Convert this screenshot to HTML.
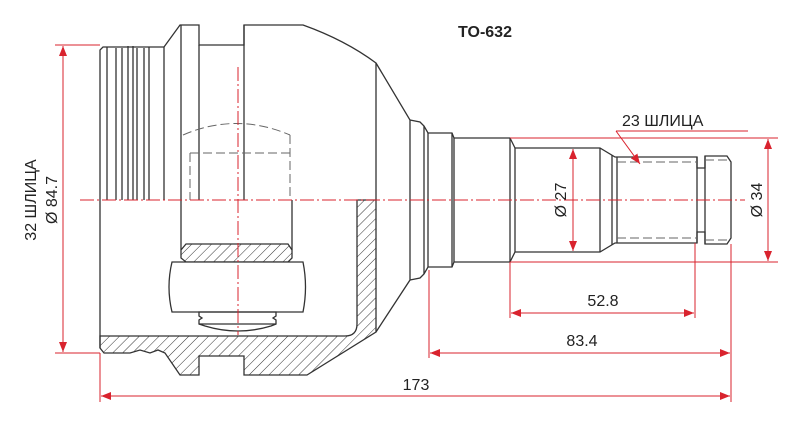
<!DOCTYPE html>
<html><head><meta charset="utf-8"><style>html,body{margin:0;padding:0;background:#fff}svg{display:block}</style></head><body>
<svg width="800" height="426" viewBox="0 0 800 426" xmlns="http://www.w3.org/2000/svg" font-family="Liberation Sans, DejaVu Sans, sans-serif">
<defs>
<pattern id="h" patternUnits="userSpaceOnUse" width="7" height="7" patternTransform="rotate(45)">
<rect width="7" height="7" fill="#fff"/><line x1="0" y1="0" x2="0" y2="7" stroke="#333" stroke-width="1"/>
</pattern>
<marker id="a" markerWidth="10" markerHeight="8" refX="10" refY="4" orient="auto-start-reverse" markerUnits="userSpaceOnUse"><path d="M0,0 L10,4 L0,8z" fill="#d9232e"/></marker>
</defs>
<text x="485" y="37" font-size="16" font-weight="bold" text-anchor="middle" fill="#222">TO-632</text>

<g fill="none" stroke="#333" stroke-width="1.3">
<path d="M100,336 L345,336 Q357,336 357,324 L357,200 L376,200 L376,332 L307,375 L244,375 L244,356 L199,356 L199,375 L180,375 L165,353 L158,350 L150,353 L140,350 L130,353 L104,353 L100,348 Z" fill="url(#h)"/>
<path d="M100,200 L100,50 L103,47 L164,47 L180,25 L199,25 L199,45 L244,45 L244,25 L303,25 Q345,40 376,63 L410,120 L410,280 L376,332"/>
<line x1="100" y1="200" x2="100" y2="348"/>
<line x1="164" y1="47" x2="164" y2="200"/>
<line x1="181" y1="25" x2="181" y2="200"/>
<line x1="199" y1="45" x2="199" y2="200"/>
<line x1="244" y1="25" x2="244" y2="200"/>
<line x1="376" y1="63" x2="376" y2="200"/>
<line x1="107" y1="47" x2="107" y2="200"/>
<line x1="116" y1="48" x2="116" y2="200"/>
<line x1="122" y1="48" x2="122" y2="200"/>
<line x1="128" y1="46" x2="128" y2="200"/>
<line x1="133" y1="46" x2="133" y2="200"/>
<line x1="137" y1="48" x2="137" y2="200"/>
<line x1="144" y1="48" x2="144" y2="200"/>
<line x1="149" y1="47" x2="149" y2="200"/>
<line x1="181" y1="200" x2="181" y2="250"/>
<line x1="292" y1="200" x2="292" y2="250"/>
<path d="M186,244 L288,244 L292,250 L292,258 L288,262 L186,262 L181,258 L181,250 Z" fill="url(#h)"/>
<path d="M172,262 L303,262 Q308,287 303,312 L172,312 Q166,287 172,262 Z" fill="#fff"/>
<path d="M199,312 L276,312 L276,316 L273,318 L276,320 L276,324 L271,326 Q238,336 205,326 L199,324 L199,320 L202,318 L199,316 Z"/>
<line x1="199" y1="324" x2="276" y2="324"/>
<g stroke-dasharray="9,4" stroke-width="1" stroke="#666">
<path d="M183,135 Q236,112 290,135"/>
<line x1="190" y1="153" x2="290" y2="153"/>
<line x1="190" y1="153" x2="190" y2="200"/>
<line x1="290" y1="135" x2="290" y2="200"/>
</g>
<path d="M410,120 L420,122 L424,126 L428,133 L452,133 L454,138 L510,138 L515,148 L600,148 L615,157 L697,157 L697,168 L705,168 L705,156 L727,156 L731,162 L731,238 L727,244 L705,244 L705,232 L697,232 L697,243 L615,243 L600,252 L515,252 L510,262 L454,262 L452,267 L428,267 L424,274 L420,278 L410,280"/>
<line x1="424" y1="126" x2="424" y2="274"/>
<line x1="428" y1="133" x2="428" y2="267"/>
<line x1="452" y1="133" x2="452" y2="267"/>
<line x1="454" y1="138" x2="454" y2="262"/>
<line x1="510" y1="138" x2="510" y2="262"/>
<line x1="515" y1="148" x2="515" y2="252"/>
<line x1="600" y1="148" x2="600" y2="252"/>
<line x1="612" y1="155" x2="612" y2="245"/>
<line x1="617" y1="157" x2="617" y2="243"/>
<line x1="697" y1="157" x2="697" y2="243"/>
<line x1="705" y1="156" x2="705" y2="244"/>
<g stroke-dasharray="9,4" stroke-width="1" stroke="#666">
<line x1="617" y1="162" x2="697" y2="162"/>
<line x1="617" y1="238" x2="697" y2="238"/>
<line x1="705" y1="160" x2="727" y2="160"/>
<line x1="705" y1="240" x2="727" y2="240"/>
</g>
</g>

<g stroke="#d9232e" stroke-width="1" fill="none">
<line x1="80" y1="200" x2="745" y2="200" stroke-dasharray="14,3,2,3"/>
<line x1="238" y1="67" x2="238" y2="335" stroke-dasharray="14,3,2,3"/>
<line x1="55" y1="45" x2="100" y2="45"/>
<line x1="55" y1="353" x2="100" y2="353"/>
<line x1="63" y1="46" x2="63" y2="352" marker-start="url(#a)" marker-end="url(#a)"/>
<line x1="573" y1="149" x2="573" y2="251" marker-start="url(#a)" marker-end="url(#a)"/>
<line x1="510" y1="138" x2="778" y2="138"/>
<line x1="510" y1="262" x2="778" y2="262"/>
<line x1="768" y1="139" x2="768" y2="261" marker-start="url(#a)" marker-end="url(#a)"/>
<line x1="100" y1="353" x2="100" y2="402"/>
<line x1="429" y1="270" x2="429" y2="358"/>
<line x1="510" y1="262" x2="510" y2="318"/>
<line x1="695" y1="243" x2="695" y2="318"/>
<line x1="731" y1="244" x2="731" y2="402"/>
<line x1="511" y1="313" x2="694" y2="313" marker-start="url(#a)" marker-end="url(#a)"/>
<line x1="430" y1="353" x2="730" y2="353" marker-start="url(#a)" marker-end="url(#a)"/>
<line x1="101" y1="396" x2="730" y2="396" marker-start="url(#a)" marker-end="url(#a)"/>
<line x1="616" y1="131" x2="748" y2="131"/>
<line x1="616" y1="131" x2="640" y2="164" marker-end="url(#a)"/>
</g>

<g fill="#222" font-size="16">
<text x="622" y="126">23 ШЛИЦА</text>
<text x="603" y="306" text-anchor="middle">52.8</text>
<text x="582" y="346" text-anchor="middle">83.4</text>
<text x="416" y="390" text-anchor="middle">173</text>
<text transform="translate(36,200) rotate(-90)" text-anchor="middle">32 ШЛИЦА</text>
<text transform="translate(57,200) rotate(-90)" text-anchor="middle">Ø 84.7</text>
<text transform="translate(566,200) rotate(-90)" text-anchor="middle">Ø 27</text>
<text transform="translate(762,200) rotate(-90)" text-anchor="middle">Ø 34</text>
</g>
</svg>
</body></html>
